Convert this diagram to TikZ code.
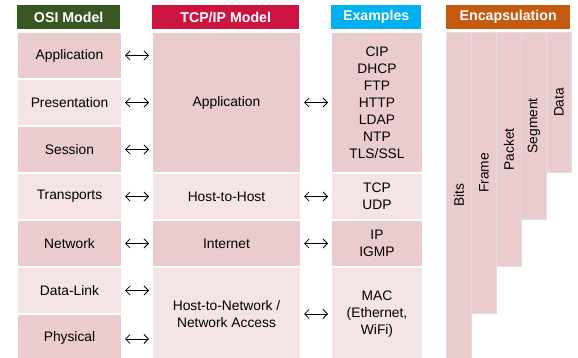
\documentclass[tikz,border=0pt]{standalone}
\usepackage{fontspec}
\setmainfont{Liberation Sans}
\usetikzlibrary{arrows.meta}

\definecolor{celldark}{RGB}{235,204,206}
\definecolor{celllight}{RGB}{244,228,229}
\definecolor{osigreen}{RGB}{56,87,35}
\definecolor{tcpred}{RGB}{204,20,64}
\definecolor{excyan}{RGB}{0,176,240}
\definecolor{encorange}{RGB}{197,90,17}

\begin{document}
\begin{tikzpicture}[x=1pt, y=-1pt,
    cell/.style = {draw=white, line width=2pt, inner sep=0pt, anchor=north west,
                   align=center, font=\fontsize{13.8}{17}\selectfont},
    dark/.style = {cell, fill=celldark},
    light/.style = {cell, fill=celllight},
    head/.style = {anchor=north west, inner sep=0pt, minimum height=24pt,
                   text=white, font=\fontsize{14.2}{16}\selectfont\bfseries},
    layer/.style = {anchor=north west, inner sep=0pt, minimum width=25pt,
                    fill=celldark, draw=black!12, line width=0.8pt,
                    font=\fontsize{13.8}{17}\selectfont},
    link/.style = {{Straight Barb[length=4.5pt,width=9pt]}-{Straight Barb[length=4.5pt,width=9pt]},
                   line width=0.8pt, black, shorten <=2pt, shorten >=2pt}]
  \useasboundingbox (0,0) rectangle (578,358);

  % headers
  \node [head, fill=osigreen,  minimum width=103pt] (hosi) at (17,5)  {OSI Model};
  \node [head, fill=tcpred,    minimum width=147pt] (htcp) at (152,5) {TCP/IP Model};
  \node [head, fill=excyan,    minimum width=90pt]  (hex)  at (331,5) {Examples};
  \node [head, fill=encorange, minimum width=124pt] (henc) at (446,5) {Encapsulation};

  % OSI layers
  \node [dark,  minimum width=105pt, minimum height=47pt] (osi1) at (16,31)  {Application};
  \node [light, minimum width=105pt, minimum height=47pt] (osi2) at (16,78)  {Presentation};
  \node [dark,  minimum width=105pt, minimum height=47pt] (osi3) at (16,125) {Session};
  \node [light, minimum width=105pt, minimum height=47pt] (osi4) at (16,172) {Transports};
  \node [dark,  minimum width=105pt, minimum height=47pt] (osi5) at (16,219) {Network};
  \node [light, minimum width=105pt, minimum height=47pt] (osi6) at (16,266) {Data-Link};
  \node [dark,  minimum width=105pt, minimum height=47pt] (osi7) at (16,313) {Physical};

  % TCP/IP layers
  \node [dark,  minimum width=149pt, minimum height=141pt] (tapp) at (151,31)  {Application};
  \node [light, minimum width=149pt, minimum height=47pt]  (thost) at (151,172) {Host-to-Host};
  \node [dark,  minimum width=149pt, minimum height=47pt]  (tnet) at (151,219) {Internet};
  \node [light, minimum width=149pt, minimum height=94pt]  (tacc) at (151,266) {Host-to-Network /\\Network Access};

  % examples
  \node [dark,  minimum width=92pt, minimum height=141pt] (exapp) at (330,31)  {CIP\\DHCP\\FTP\\HTTP\\LDAP\\NTP\\TLS/SSL};
  \node [light, minimum width=92pt, minimum height=47pt]  (exhost) at (330,172) {TCP\\UDP};
  \node [dark,  minimum width=92pt, minimum height=47pt]  (exnet) at (330,219) {IP\\IGMP};
  \node [light, minimum width=92pt, minimum height=94pt]  (exacc) at (330,266) {MAC\\(Ethernet,\\WiFi)};

  % encapsulation
  \node [layer, minimum height=326pt] (bits)  at (446,32) {\rotatebox{90}{Bits}};
  \node [layer, minimum height=281pt] (frame) at (471,32) {\rotatebox{90}{Frame}};
  \node [layer, minimum height=234pt] (pack)  at (496,32) {\rotatebox{90}{Packet}};
  \node [layer, minimum height=187pt] (seg)   at (521,32) {\rotatebox{90}{Segment}};
  \node [layer, minimum height=140pt] (data)  at (546,32) {\rotatebox{90}{Data}};

  % OSI <-> TCP/IP
  \draw [link] (osi1.east) -- (osi1.east -| tapp.west);
  \draw [link] (osi2.east) -- (osi2.east -| tapp.west);
  \draw [link] (osi3.east) -- (osi3.east -| tapp.west);
  \draw [link] (osi4.east) -- (osi4.east -| tapp.west);
  \draw [link] (osi5.east) -- (osi5.east -| tapp.west);
  \draw [link] (osi6.east) -- (osi6.east -| tapp.west);
  \draw [link] ([yshift=-1.5pt]osi7.east) -- ([yshift=-1.5pt]osi7.east -| tapp.west);

  % TCP/IP <-> examples
  \draw [link] (tapp)  -- (exapp);
  \draw [link] (thost) -- (exhost);
  \draw [link] (tnet)  -- (exnet);
  \draw [link] (tacc)  -- (exacc);
\end{tikzpicture}
\end{document}
